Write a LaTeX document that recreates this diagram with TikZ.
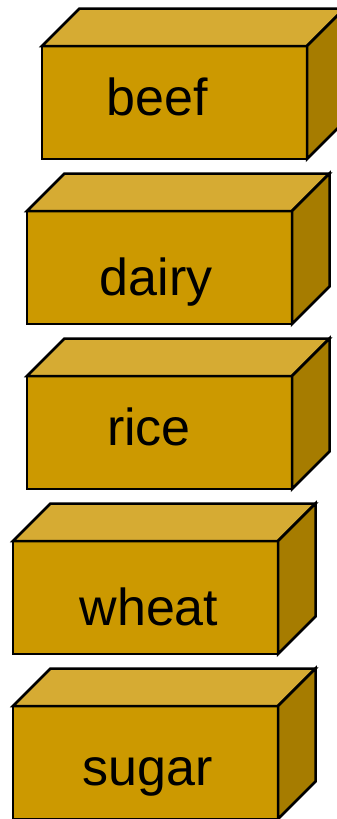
\documentclass[tikz,border=0pt]{standalone}
\usepackage{fontspec}
\setmainfont{Liberation Sans}
\definecolor{frontc}{HTML}{CC9900}
\definecolor{topc}{HTML}{D6AB33}
\definecolor{sidec}{HTML}{A67C00}
\tikzset{
  face/.style={draw=black, line width=2.5pt, line join=miter},
  frontface/.style={face, fill=frontc, minimum width=265pt, minimum height=113pt,
    inner sep=0pt, outer sep=0pt, anchor=north west},
  foodtext/.style={font=\fontsize{52}{52}\selectfont, anchor=base, inner sep=0pt}
}
\newcommand{\foodbox}[6]{%
  \node[frontface] (#1) at (#2,#3) {};
  \draw[face, fill=topc] (#1.north west) -- ++(37.5,-37.5) -- ++(265,0) -- (#1.north east) -- cycle;
  \draw[face, fill=sidec] (#1.north east) -- ++(37.5,-37.5) -- ++(0,113) -- (#1.south east) -- cycle;
  \node[foodtext] (#1t) at (#5,#6) {#4};
}
\begin{document}
\begin{tikzpicture}[x=1pt,y=-1pt]
\useasboundingbox (0,0) rectangle (337,819);
\foodbox{beef}{42}{46}{beef}{157}{115}
\foodbox{dairy}{27}{211}{dairy}{156}{295}
\foodbox{rice}{27}{376}{rice}{149}{445}
\foodbox{wheat}{13}{541}{wheat}{149}{625}
\foodbox{sugar}{13}{706}{sugar}{148}{785}
\end{tikzpicture}
\end{document}
